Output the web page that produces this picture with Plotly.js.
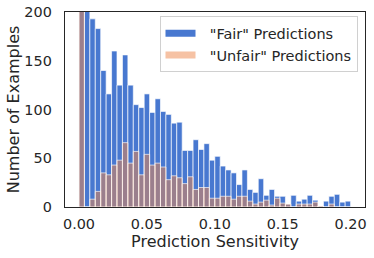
<!DOCTYPE html>
<html><head><meta charset="utf-8">
<script src="https://cdn.plot.ly/plotly-3.0.1.min.js"></script>
<style>html,body{margin:0;padding:0;background:#fff}#chart{width:374px;height:258px}</style>
</head><body><div id="chart"></div>
<script>
const binWidth = 0.004;
const binStart = 0;
const fairCounts = [320, 230, 193, 183, 140, 116, 160, 125, 156, 125,
                    105, 102, 116, 97, 111, 98, 95, 86, 87, 58,
                    58, 69, 59, 65, 48, 52, 42, 38, 35, 23,
                    38, 18, 15, 29, 12, 18, 11, 11, 3, 12,
                    6, 8, 12, 7, 1, 6, 11, 13, 5, 6];
const unfairCounts = [420, 0, 8, 16, 35, 33, 43, 48, 66, 45,
                      57, 33, 54, 43, 45, 41, 28, 32, 30, 24,
                      31, 18, 20, 20, 9, 9, 11, 11, 8, 11,
                      11, 6, 3, 5, 7, 2, 9, 4, 3, 0,
                      3, 3, 3, 5, 1, 0, 3, 0, 0, 0];
const seriesNames = ['"Fair" Predictions', '"Unfair" Predictions'];
const xTickVals = [0, 0.05, 0.10, 0.15, 0.20];
const xTickText = ['0.00', '0.05', '0.10', '0.15', '0.20'];
const yTickVals = [0, 50, 100, 150, 200];
const xTitle = 'Prediction Sensitivity';
const yTitle = 'Number of Examples';

const binCenters = fairCounts.map((_, i) => binStart + binWidth * (i + 0.5));
const blue = '#4878d0';
const orangeA = 'rgba(238,133,74,0.5)';
const edge = {color: 'rgba(255,255,255,0.65)', width: 1};
const txt = '#262626';
const pad = '\u00a0\u00a0';

const traces = [
  {type: 'bar', x: binCenters, y: fairCounts, width: binWidth, name: seriesNames[0],
   marker: {color: blue, line: edge}, showlegend: false, hoverinfo: 'skip'},
  {type: 'bar', x: binCenters, y: unfairCounts, width: binWidth, name: seriesNames[1],
   marker: {color: orangeA, line: edge}, showlegend: false, hoverinfo: 'skip'},
  {type: 'scatter', mode: 'lines', x: [null], y: [null], name: pad + seriesNames[0],
   line: {color: blue, width: 7}, showlegend: true},
  {type: 'scatter', mode: 'lines', x: [null], y: [null], name: pad + seriesNames[1],
   line: {color: 'rgba(246,194,164,1)', width: 7}, showlegend: true}
];

const layout = {
  width: 374, height: 258,
  margin: {l: 65, r: 9, t: 12, b: 51, pad: 0},
  paper_bgcolor: '#fff', plot_bgcolor: '#fff',
  font: {family: 'DejaVu Sans, sans-serif', size: 14, color: txt},
  barmode: 'overlay', bargap: 0,
  showlegend: true,
  legend: {x: 0.975, y: 0.978, xanchor: 'right', yanchor: 'top',
           bgcolor: 'rgba(255,255,255,0.9)', bordercolor: '#d0d0d0', borderwidth: 1,
           font: {size: 14.5, color: txt}, itemwidth: 30, tracegroupgap: 0},
  xaxis: {range: [-0.0103, 0.2106], tickvals: xTickVals, ticktext: xTickText,
          showgrid: false, zeroline: false, ticks: '', showline: true, mirror: true,
          linecolor: txt, linewidth: 1.3, ticklabelstandoff: 3,
          tickfont: {size: 14.4, color: txt},
          title: {text: xTitle, font: {size: 16, color: txt}, standoff: 2}},
  yaxis: {range: [0, 200], tickvals: yTickVals, showgrid: false, zeroline: false,
          ticks: '', showline: true, mirror: true, linecolor: txt, linewidth: 1.3,
          ticklabelstandoff: 9, tickfont: {size: 14.4, color: txt},
          title: {text: yTitle, font: {size: 16, color: txt}, standoff: 0}}
};

Plotly.newPlot('chart', traces, layout, {displayModeBar: false, staticPlot: true});
</script>
</body></html>
